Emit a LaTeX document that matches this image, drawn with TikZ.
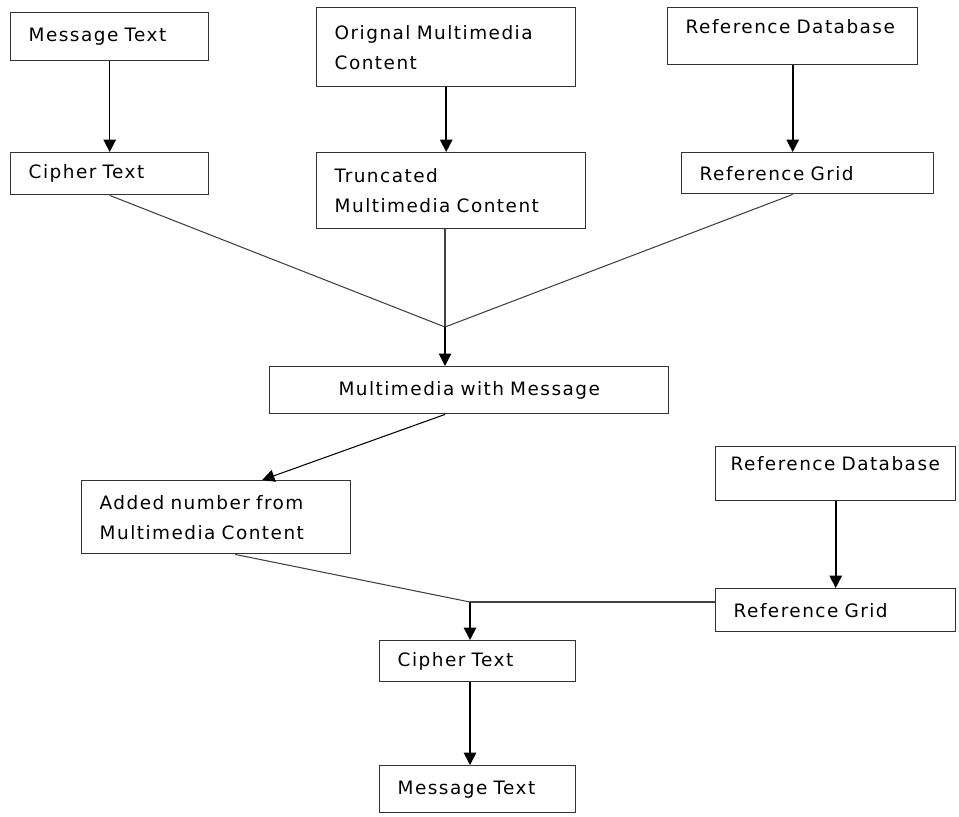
\documentclass[tikz,border=0pt]{standalone}
\usepackage{fontspec}
\newfontfamily\boxfont[LetterSpace=8]{DejaVu Sans}
\usetikzlibrary{arrows.meta,calc}

\tikzset{
	blk/.style={draw=black!80, line width=0.8pt, anchor=north west, inner xsep=0.36cm, inner ysep=0pt, align=left, font=\boxfont\fontsize{10.5}{17}\selectfont},
	boxsize/.style 2 args={minimum width=#1*0.02cm, minimum height=#2*0.02cm, text width=#1*0.02cm-0.72cm},
	arr/.style={draw=black, line width=0.9pt, -{Triangle[width=7pt,length=7pt]}},
	lnk/.style={draw=black!75, line width=0.6pt}
}

\begin{document}
\begin{tikzpicture}[x=0.02cm, y=-0.02cm]
		%%%%% START %%%%%
		\useasboundingbox (0,0) rectangle (959,816);
		
		\node[blk, boxsize={198}{48}] (msgtext) at (10,12) {Message Text};
		\node[blk, boxsize={259}{79}] (origmm) at (316,7) {Orignal Multimedia\\Content};
		\node[blk, boxsize={250}{57}, text height=0.52cm, text depth=0.62cm] (refdb) at (667,7) {Reference Database};
		
		\node[blk, boxsize={198}{42}] (ciphtext) at (10,152) {Cipher Text};
		\node[blk, boxsize={269}{76}] (truncmm) at (316,152) {Truncated\\Multimedia Content};
		\node[blk, boxsize={252}{41}] (refgrid) at (681,152) {Reference Grid};
		
		\node[blk, boxsize={399}{47}, align=center] (mmmsg) at (269,366) {Multimedia with Message};
		\node[blk, boxsize={269}{73}] (addnum) at (81,480) {Added number from\\Multimedia Content};
		
		\node[blk, boxsize={240}{54}, inner xsep=0.3cm, text width=4.2cm, text height=0.48cm, text depth=0.60cm] (refdbb) at (715,446) {Reference Database};
		\node[blk, boxsize={240}{43}] (refgridb) at (715,588) {Reference Grid};
		
		\node[blk, boxsize={196}{41}] (ciphtextb) at (379,640) {Cipher Text};
		\node[blk, boxsize={196}{47}] (msgtextb) at (379,765) {Message Text};
		
		\coordinate (join) at (445,327);
		\coordinate (merge) at (470,602);
		
		% top row down
		\draw[arr] (msgtext.south) -- (msgtext.south |- ciphtext.north);
		\draw[arr] (origmm.south) -- (origmm.south |- truncmm.north);
		\draw[arr] (refdb.south) -- (refdb.south |- refgrid.north);
		
		% three into one
		\draw[lnk] (ciphtext.south) -- (join);
		\draw[lnk] (truncmm.south -| join) -- (join);
		\draw[lnk] (refgrid.south -| refdb.south) -- (join);
		\draw[arr, line width=0.6pt] (join) -- (join |- mmmsg.north);
		
		\draw[arr, line width=0.6pt] (mmmsg.south -| join) -- ($(addnum.north west)!0.67!(addnum.north east)$);
		
		% second half
		\draw[arr] (refdbb.south) -- (refdbb.south |- refgridb.north);
		\draw[lnk] ($(addnum.south west)!0.57!(addnum.south east)$) -- (merge);
		\draw[lnk] (merge -| refgridb.west) -- (merge);
		\draw[arr] (merge) -- (merge |- ciphtextb.north);
		\draw[arr] (ciphtextb.south -| merge) -- (merge |- msgtextb.north);
		
		%%%%% END %%%%%
\end{tikzpicture}
\end{document}
